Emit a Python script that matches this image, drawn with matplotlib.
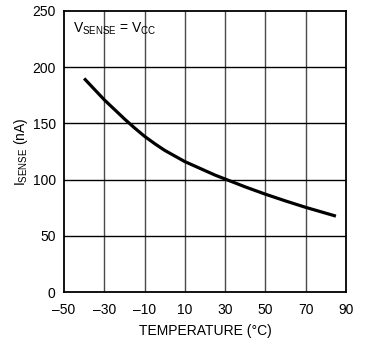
import matplotlib
matplotlib.use("Agg")
import matplotlib.pyplot as plt

base = 'Liberation Sans'
plt.rcParams['font.family'] = [base, 'DejaVu Sans']
plt.rcParams['mathtext.fontset'] = 'custom'
plt.rcParams['mathtext.rm'] = base
plt.rcParams['mathtext.it'] = base
plt.rcParams['mathtext.default'] = 'rm'

# data
temperature = [-40, -35, -30, -25, -20, -15, -10, -5, 0, 5, 10, 15, 20, 25, 30, 40, 50, 60, 70, 85]
i_sense = [190, 180.5, 171, 162.5, 154, 146, 138.5, 132, 126, 121, 116, 112, 108, 104, 100.5,
           93.5, 87, 81, 75.3, 67.5]

x_ticks = [-50, -30, -10, 10, 30, 50, 70, 90]
x_labels = ['\u201350', '\u201330', '\u201310', '10', '30', '50', '70', '90']
y_ticks = [0, 50, 100, 150, 200, 250]
y_labels = ['0', '50', '100', '150', '200', '250']

fig = plt.figure(figsize=(3.70, 3.39), dpi=100)
ax = fig.add_axes([64/370, (339-292)/339, (346-64)/370, (292-11)/339])

ax.set_xlim(-50, 90)
ax.set_ylim(0, 250)

for xv in x_ticks[1:-1]:
    ax.axvline(xv, color='#4a4a4a', lw=1.0, zorder=1)
for yv in y_ticks[1:-1]:
    ax.axhline(yv, color='black', lw=1.0, zorder=1)

ax.plot(temperature, i_sense, color='black', lw=2.3, solid_capstyle='butt',
        solid_joinstyle='round', zorder=3)

ax.set_xticks(x_ticks)
ax.set_xticklabels(x_labels, fontsize=10)
ax.set_yticks(y_ticks)
ax.set_yticklabels(y_labels, fontsize=10)
ax.tick_params(axis='x', length=0, pad=8)
ax.tick_params(axis='y', length=0, pad=6)
for s in ax.spines.values():
    s.set_linewidth(1.3)
    s.set_color('black')

ax.set_xlabel('TEMPERATURE (\u00b0C)', fontsize=10, labelpad=5)
ax.set_ylabel(r'I$_{\mathrm{SENSE}}$ (nA)', fontsize=10, labelpad=2)

ax.text((72.7-64)/282, (292-33)/281, r'V$_{\mathrm{SENSE}}$ = V$_{\mathrm{CC}}$',
        transform=ax.transAxes, ha='left', va='baseline', fontsize=10)

fig.savefig('out.png', dpi=100)
